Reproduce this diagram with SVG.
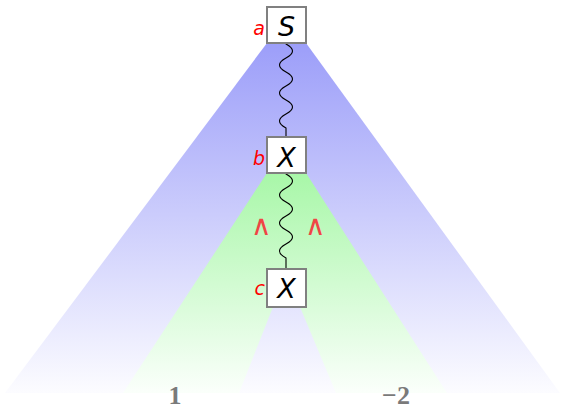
<svg xmlns="http://www.w3.org/2000/svg" width="563" height="410" viewBox="0 0 563 410">
<defs>
<linearGradient id="gBlue" gradientUnits="userSpaceOnUse" x1="0" y1="43" x2="0" y2="393">
<stop offset="0" stop-color="#9c9ef9"/>
<stop offset="1" stop-color="#fcfcff"/>
</linearGradient>
<linearGradient id="gGreen" gradientUnits="userSpaceOnUse" x1="0" y1="173" x2="0" y2="393">
<stop offset="0" stop-color="#a8f7a8"/>
<stop offset="1" stop-color="#fbfffb"/>
</linearGradient>
<style>
.box{fill:#fff;stroke:#808080;stroke-width:2}
.sym{font-family:"DejaVu Sans",sans-serif;font-style:italic;font-size:27px;fill:#000;text-anchor:middle}
.lab{font-family:"DejaVu Sans",sans-serif;font-style:italic;font-size:19px;fill:#ff0000;text-anchor:end}
.wedge{font-family:"DejaVu Sans",sans-serif;font-weight:200;font-size:28px;fill:#f04545;text-anchor:middle}
.num{font-family:"Liberation Serif",serif;font-weight:bold;font-size:26px;fill:#7a7a7a;text-anchor:middle}
.wave{fill:none;stroke:#000;stroke-width:1.1}
</style>
</defs>
<g id="shading">
<polygon points="267,43 306,43 560,393 5,393" fill="url(#gBlue)"/>
<polygon points="267,173 306,173 447,393 123,393" fill="url(#gGreen)"/>
<polygon points="273,307 300,307 336,393 239,393" fill="url(#gBlue)"/>
</g>
<g id="connectors">
<path class="wave" d="M286 43 V44 q13 7 0 14 t0 14 t0 14 t0 14 t0 14 t0 14 V137"/>
<path class="wave" d="M286 173 V174 q13 7 0 14 t0 14 t0 14 t0 14 t0 14 t0 14 V268"/>
</g>
<g id="nodeS">
<rect class="box" x="267" y="7" width="39" height="36"/>
<text class="sym" x="286.5" y="36">S</text>
<text class="lab" x="265" y="35">a</text>
</g>
<g id="nodeB">
<rect class="box" x="267" y="137" width="39" height="36"/>
<text class="sym" x="286.5" y="167">X</text>
<text class="lab" x="265" y="165">b</text>
</g>
<g id="nodeC">
<rect class="box" x="267" y="269" width="39" height="38"/>
<text class="sym" x="286.5" y="298">X</text>
<text class="lab" x="265" y="295">c</text>
</g>
<g id="labels">
<text class="wedge" x="261" y="235">∧</text>
<text class="wedge" x="315" y="235">∧</text>
<text class="num" x="175" y="404">1</text>
<text class="num" x="396" y="404">−2</text>
</g>
</svg>
